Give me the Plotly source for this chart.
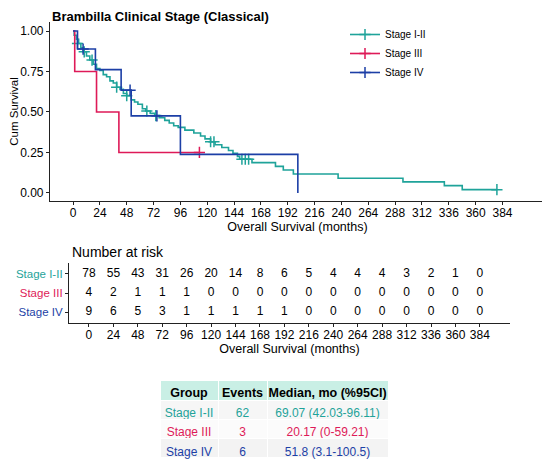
import plotly.graph_objects as go

# Kaplan-Meier steps (months, survival)
t_12 = [0, 1, 3, 5, 7, 9, 12, 15, 18, 21, 24, 27, 30, 33, 36, 39, 42, 45, 48, 52, 55, 58, 62, 65, 69,
        73, 77, 82, 86, 90, 94, 100, 108, 114, 118, 123, 127, 133, 139, 143, 147, 149, 160, 181, 188,
        197, 237, 295, 332, 348, 379]
s_12 = [1.0, 0.974, 0.949, 0.923, 0.897, 0.872, 0.846, 0.821, 0.795, 0.769, 0.756, 0.731, 0.718, 0.692,
        0.679, 0.653, 0.640, 0.614, 0.601, 0.575, 0.562, 0.548, 0.520, 0.506, 0.492, 0.478, 0.464, 0.448,
        0.432, 0.415, 0.405, 0.388, 0.370, 0.352, 0.334, 0.316, 0.298, 0.281, 0.262, 0.244, 0.226, 0.208,
        0.187, 0.164, 0.142, 0.117, 0.091, 0.068, 0.045, 0.020, 0.020]
cens_t_12 = [4, 10, 17, 39, 48, 66, 74, 123, 126, 151, 154, 157, 379]
cens_s_12 = [0.923, 0.872, 0.821, 0.653, 0.601, 0.506, 0.478, 0.316, 0.316, 0.208, 0.208, 0.208, 0.020]

t_3 = [0, 1.5, 21, 41, 113]
s_3 = [1.0, 0.75, 0.5, 0.25, 0.25]
cens_t_3 = [113]
cens_s_3 = [0.25]

t_4 = [0, 4, 20, 43, 52, 96, 201]
s_4 = [1.0, 0.889, 0.762, 0.635, 0.476, 0.238, 0.0]
cens_t_4 = [9, 51, 75]
cens_s_4 = [0.889, 0.635, 0.476]

groups = ["Stage I-II", "Stage III", "Stage IV"]
colors = ["#1fa39a", "#de1a58", "#1c3fa6"]

risk_times = list(range(0, 385, 24))
risk_12 = [78, 55, 43, 31, 26, 20, 14, 8, 6, 5, 4, 4, 4, 3, 2, 1, 0]
risk_3 = [4, 2, 1, 1, 1, 0, 0, 0, 0, 0, 0, 0, 0, 0, 0, 0, 0]
risk_4 = [9, 6, 5, 3, 1, 1, 1, 1, 1, 0, 0, 0, 0, 0, 0, 0, 0]

events = [62, 3, 6]
medians = ["69.07 (42.03-96.11)", "20.17 (0-59.21)", "51.8 (3.1-100.5)"]
table_head = ["Group", "Events", "Median, mo (%95CI)"]

# page has an 8px body margin, so work in page pixels and convert
OFF = 8
W, H = 550 - OFF, 463 - OFF
FONT = "Liberation Sans, Arial, sans-serif"


def px(x):
    return (x - OFF) / W


def py(y):
    return 1 - (y - OFF) / H


def nb(s):
    return str(s).replace(" ", "\u00a0")


fig = go.Figure()

curves = [(t_12, s_12, cens_t_12, cens_s_12), (t_3, s_3, cens_t_3, cens_s_3), (t_4, s_4, cens_t_4, cens_s_4)]
for name, col, (t, s, ct, cs) in zip(groups, colors, curves):
    fig.add_trace(go.Scatter(x=t, y=s, mode="lines", line=dict(color=col, width=1.6, shape="hv"),
                             showlegend=False, hoverinfo="skip"))
    fig.add_trace(go.Scatter(x=ct, y=cs, mode="markers",
                             marker=dict(symbol="cross-thin", size=8, line=dict(color=col, width=1.5)),
                             showlegend=False, hoverinfo="skip"))
# legend-only entries (line with cross)
for name, col in zip(groups, colors):
    fig.add_trace(go.Scatter(x=[None], y=[None], mode="lines+markers", name=name,
                             line=dict(color=col, width=1.6),
                             marker=dict(symbol="cross-thin", size=8, line=dict(color=col, width=1.5))))

# number at risk
risk_rows = [risk_12, risk_3, risk_4]
for i, row in enumerate(risk_rows):
    fig.add_trace(go.Scatter(x=risk_times, y=[3 - i] * len(row), mode="text", text=[str(v) for v in row],
                             textfont=dict(size=12, color="black", family=FONT),
                             xaxis="x2", yaxis="y2", showlegend=False, hoverinfo="skip"))

# summary table
fig.add_trace(go.Table(
    domain=dict(x=[px(160), px(388)], y=[0.0, py(380)]),
    columnwidth=[58, 49, 121],
    header=dict(values=[nb(h) for h in table_head],
                fill_color="#c9efe5", line=dict(color="white", width=1), align="center",
                font=dict(size=12.5, color="black", family=FONT, weight="bold"), height=20),
    cells=dict(values=[[nb(g) for g in groups], events, [nb(m) for m in medians]],
               fill_color=[["#f6f6f6", "#fbfbfb", "#f3f3f3"]] * 3,
               line=dict(color="white", width=1), align="center",
               font=dict(size=12, color=[colors] * 3, family=FONT), height=19.3),
))

axis_style = dict(showline=True, linecolor="#222", linewidth=1.2, ticks="outside", ticklen=3,
                  tickcolor="#222", showgrid=False, zeroline=False)
tick_font = dict(size=12, color="black", family=FONT)
fig.update_layout(
    width=W, height=H, margin=dict(l=0, r=0, t=0, b=0),
    paper_bgcolor="white", plot_bgcolor="white",
    font=dict(family=FONT, color="black"),
    xaxis=dict(domain=[px(50), px(545)], range=[-20.6, 422], tickvals=risk_times, tickfont=tick_font,
               ticklabelstandoff=-3,
               title=dict(text="Overall Survival (months)", font=dict(size=12.5), standoff=0), **axis_style),
    yaxis=dict(domain=[py(201), py(22)], range=[-0.05, 1.056], tickvals=[0, 0.25, 0.5, 0.75, 1],
               ticktext=["0.00", "0.25", "0.50", "0.75", "1.00"], tickfont=tick_font,
               title=dict(text="Cum Survival", font=dict(size=11.5), standoff=1), **axis_style),
    xaxis2=dict(domain=[px(69), px(510)], range=[-19.6, 413.6], tickvals=risk_times, anchor="y2",
                tickfont=tick_font, ticklabelstandoff=-3,
                title=dict(text="Overall Survival (months)", font=dict(size=12.5), standoff=0), **axis_style),
    yaxis2=dict(domain=[py(323), py(263)], range=[0.45, 3.55], anchor="x2", tickvals=[3, 2, 1],
                ticktext=[f"<span style='color:{c}'>{g}</span>" for g, c in zip(groups, colors)],
                tickfont=dict(size=11.5, family=FONT), **axis_style),
    legend=dict(x=px(345), y=py(20), xanchor="left", yanchor="top", bgcolor="rgba(0,0,0,0)",
                font=dict(size=10, family=FONT), tracegroupgap=0, itemwidth=30),
    annotations=[
        dict(text="<b>Brambilla Clinical Stage (Classical)</b>", x=px(51), y=1, xref="paper",
             yref="paper", xanchor="left", yanchor="top", showarrow=False, font=dict(size=13),
             borderpad=0),
        dict(text="Number at risk", x=px(70), y=py(252), xref="paper", yref="paper",
             xanchor="left", yanchor="middle", showarrow=False, font=dict(size=14)),
    ],
)

fig.write_html("out.html")
